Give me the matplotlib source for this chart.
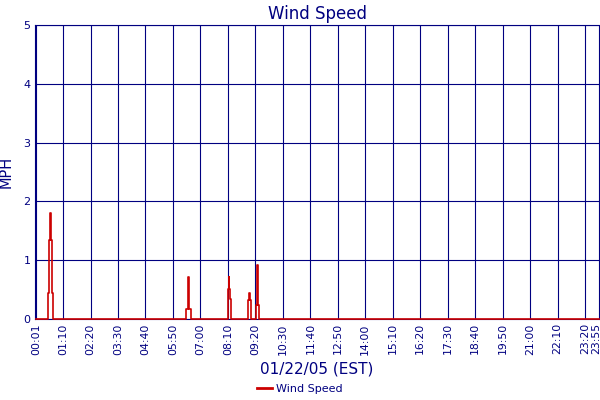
import matplotlib
matplotlib.use("Agg")
import matplotlib.pyplot as plt
import matplotlib.transforms as mtransforms

NAVY = "#000080"
RED = "#cc0000"

# wind speed samples: minute of day, mph (held until the next sample)
minutes = [1, 31, 35, 37, 38, 41, 44,
           384, 388, 389, 390, 392, 395,
           491, 493, 494, 496, 499,
           540, 542, 545, 546, 548, 550,
           561, 563, 565, 566, 568, 570,
           1435]
mph = [0, 0.45, 1.35, 1.8, 1.35, 0.45, 0,
       0.17, 0.51, 0.71, 0.51, 0.17, 0,
       0.51, 0.71, 0.51, 0.34, 0,
       0.12, 0.32, 0.44, 0.32, 0.12, 0,
       0.24, 0.66, 0.92, 0.66, 0.24, 0,
       0]

tick_labels = ["00:01", "01:10", "02:20", "03:30", "04:40", "05:50", "07:00",
               "08:10", "09:20", "10:30", "11:40", "12:50", "14:00", "15:10",
               "16:20", "17:30", "18:40", "19:50", "21:00", "22:10", "23:20",
               "23:55"]
y_ticks = [0, 1, 2, 3, 4, 5]


def to_min(s):
    h, m = s.split(":")
    return int(h) * 60 + int(m)


tick_pos = [to_min(s) for s in tick_labels]

fig = plt.figure(figsize=(6, 4), dpi=100)
ax = fig.add_axes([34.5 / 600, 1 - 319 / 400, 565 / 600, 294 / 400])

ax.plot(minutes, mph, drawstyle="steps-post", color=RED, linewidth=1.2,
        clip_on=False, zorder=3, label="Wind Speed")

ax.set_xlim(-2.8, 1437)
ax.set_ylim(0, 5)
ax.set_xticks(tick_pos)
ax.set_xticklabels(tick_labels, rotation=90, fontsize=7.8, color=NAVY)
ax.set_yticks(y_ticks)
ax.set_yticklabels([str(v) for v in y_ticks], fontsize=8, color=NAVY)
ax.tick_params(axis="both", length=0, pad=3)
ax.grid(True, color=NAVY, linewidth=0.8)
ax.set_axisbelow(True)
for sp in ax.spines.values():
    sp.set_color(NAVY)
    sp.set_linewidth(0.8)

# last label is nudged left so it stays inside the picture
last = ax.get_xticklabels()[-1]
last.set_transform(last.get_transform() +
                   mtransforms.ScaledTranslation(-2.5 / 100, 0, fig.dpi_scale_trans))

ax.set_title("Wind Speed", fontsize=12, color=NAVY, pad=4)
ax.set_ylabel("MPH", fontsize=10.5, color=NAVY)
ax.yaxis.set_label_coords(-0.037, 0.5)
ax.set_xlabel("01/22/05 (EST)", fontsize=11, color=NAVY, labelpad=5)

leg = fig.legend(loc="lower center", bbox_to_anchor=(0.5, -0.01), frameon=False,
                 fontsize=8, handlelength=1.3, handletextpad=0.4)
for t in leg.get_texts():
    t.set_color(NAVY)
for l in leg.get_lines():
    l.set_linewidth(2)

fig.savefig("out.png", dpi=100)
